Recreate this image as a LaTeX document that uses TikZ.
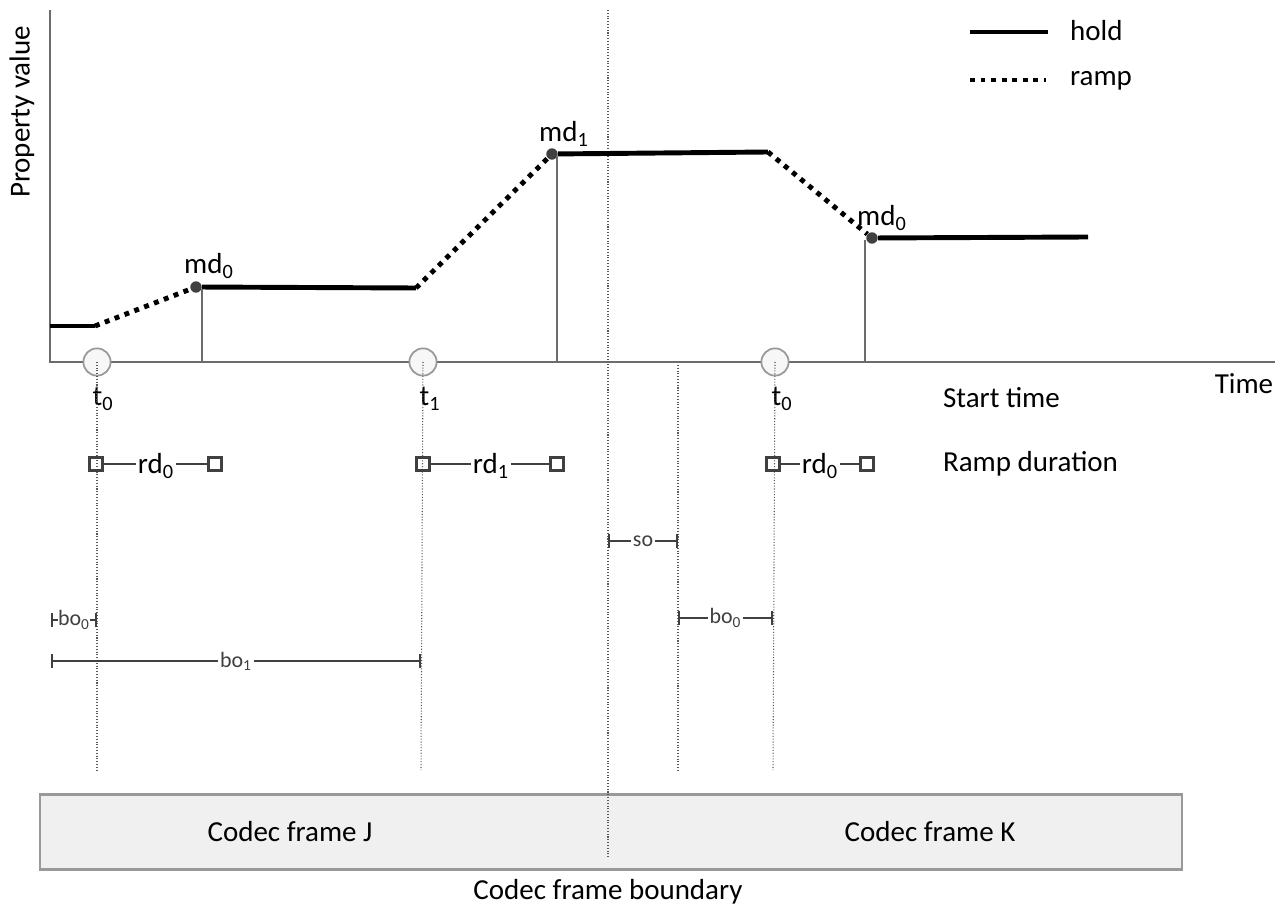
\documentclass[tikz,border=0pt]{standalone}
\usepackage{fontspec}
\setmainfont{Carlito}
\usetikzlibrary{positioning}

\begin{document}
\begin{tikzpicture}[
  x=0.02cm, y=-0.02cm,
  hold/.style={line width=2.8pt, black},
  ramp/.style={line width=2.8pt, black, dash pattern=on 2.8pt off 3.2pt},
  axisline/.style={line width=1.5pt, gray!85!black},
  stem/.style={line width=1.4pt, gray!85!black},
  guide/.style={densely dotted, gray!70!black, line width=0.6pt},
  mdpoint/.style={circle, fill=darkgray, inner sep=0pt, minimum size=6.5pt},
  starttime/.style={circle, draw=gray!80, fill=gray!6, line width=1pt, minimum size=15.5pt, inner sep=0pt},
  rdbox/.style={rectangle, draw=darkgray, line width=1.5pt, minimum size=7.5pt, inner sep=0pt},
  rdlink/.style={darkgray, line width=1.2pt},
  span/.style={|-|, gray!50!black, line width=0.9pt},
  lbl/.style={font=\fontsize{16.5}{19}\selectfont, inner sep=1pt},
  small/.style={font=\fontsize{12.5}{14}\selectfont, inner sep=1pt, fill=white}
]
\useasboundingbox (0,0) rectangle (1279,915);

% Axes
\coordinate (origin) at (50,362);
\coordinate (ytop) at (50,10);
\coordinate (xend) at (1275,362);
\draw[axisline] (ytop) -- (origin) -- (xend);
\node[lbl, rotate=90] (ylabel) at (22,112) {Property value};
\node[lbl] (xlabel) at (1244,384) {Time};

% Codec frames
\node[draw=gray!80, line width=1.2pt, fill=gray!12, minimum width=1142*0.02cm, minimum height=75*0.02cm,
  inner sep=0pt] (frames) at (611,832) {};
\node[lbl] (frameJ) at (290,832) {Codec frame J};
\node[lbl] (frameK) at (930,832) {Codec frame K};
\coordinate (btop) at (608,10);
\coordinate (bbot) at (608,858);
\draw[guide] (btop) -- (bbot);
\node[lbl] (boundary) at (608,892) {Codec frame boundary};

% Property value curve
\coordinate (p0) at (50,326);
\coordinate (p1) at (95,326);
\node[mdpoint] (md0a) at (196,287) {};
\coordinate (p2) at (416,288);
\node[mdpoint] (md1) at (552,154) {};
\coordinate (p3) at (768,152);
\node[mdpoint] (md0b) at (872,238) {};
\coordinate (p4) at (1088,237);

\draw[hold] (p0) -- (p1);
\draw[ramp] (p1) -- (md0a);
\draw[hold] (md0a) -- (p2);
\draw[ramp] (p2) -- (md1);
\draw[hold] (md1) -- (p3);
\draw[ramp] (p3) -- (md0b);
\draw[hold] (md0b) -- (p4);

\node[lbl] at (209,266) {md\textsubscript{0}};
\node[lbl] at (564,134) {md\textsubscript{1}};
\node[lbl] at (882,218) {md\textsubscript{0}};

% Stems
\draw[stem] (202,289) -- (202,362);
\draw[stem] (557,156) -- (557,362);
\draw[stem] (865,240) -- (865,362);

% Start times
\node[starttime] (st0a) at (97,362) {};
\node[starttime] (st1) at (423,362) {};
\node[starttime] (st0b) at (775,362) {};
\node[lbl] (t0a) at (103,399) {t\textsubscript{0}};
\node[lbl] (t1) at (430,399) {t\textsubscript{1}};
\node[lbl] (t0b) at (782,399) {t\textsubscript{0}};
\node[lbl, anchor=west] (starttxt) at (941,398) {Start time};

\coordinate (g0a) at (97,770);
\coordinate (g1) at (421,770);
\coordinate (so) at (678,365);
\coordinate (gso) at (678,770);
\coordinate (g0b) at (773,770);
\draw[guide] (st0a.center) -- (g0a);
\draw[guide] (st1.center) -- (g1);
\draw[guide] (so) -- (gso);
\draw[guide] (st0b.center) -- (g0b);

% Ramp durations
\node[rdbox] (rd0aL) at (96,464) {};
\node[lbl] (rd0a) at (156,466) {rd\textsubscript{0}};
\node[rdbox] (rd0aR) at (215,464) {};
\node[rdbox] (rd1L) at (423,464) {};
\node[lbl] (rd1) at (491,466) {rd\textsubscript{1}};
\node[rdbox] (rd1R) at (557,464) {};
\node[rdbox] (rd0bL) at (773,464) {};
\node[lbl] (rd0b) at (820,466) {rd\textsubscript{0}};
\node[rdbox] (rd0bR) at (867,464) {};
\node[lbl, anchor=west] (rdtxt) at (941,464) {Ramp duration};

\draw[rdlink] (rd0aL) -- (rd0aL -| rd0a.west);
\draw[rdlink] (rd0aR) -- (rd0aR -| rd0a.east);
\draw[rdlink] (rd1L) -- (rd1L -| rd1.west);
\draw[rdlink] (rd1R) -- (rd1R -| rd1.east);
\draw[rdlink] (rd0bL) -- (rd0bL -| rd0b.west);
\draw[rdlink] (rd0bR) -- (rd0bR -| rd0b.east);

% Offsets
\draw[span] (608,541) -- node[small] {so} (678,541);
\draw[span] (51,620) -- node[small, inner sep=0pt] {bo\textsubscript{0}} (97,620);
\draw[span] (51,661) -- node[small] {bo\textsubscript{1}} (421,661);
\draw[span] (678,618) -- node[small] {bo\textsubscript{0}} (773,618);

% Legend
\coordinate (hl0) at (970,32);
\coordinate (hl1) at (1048,32);
\coordinate (rl0) at (970,80);
\coordinate (rl1) at (1046,80);
\draw[hold] (hl0) -- (hl1);
\draw[ramp] (rl0) -- (rl1);
\node[lbl, anchor=west] (holdtxt) at (1068,31) {hold};
\node[lbl, anchor=west] (ramptxt) at (1068,81) {ramp};
\end{tikzpicture}
\end{document}
